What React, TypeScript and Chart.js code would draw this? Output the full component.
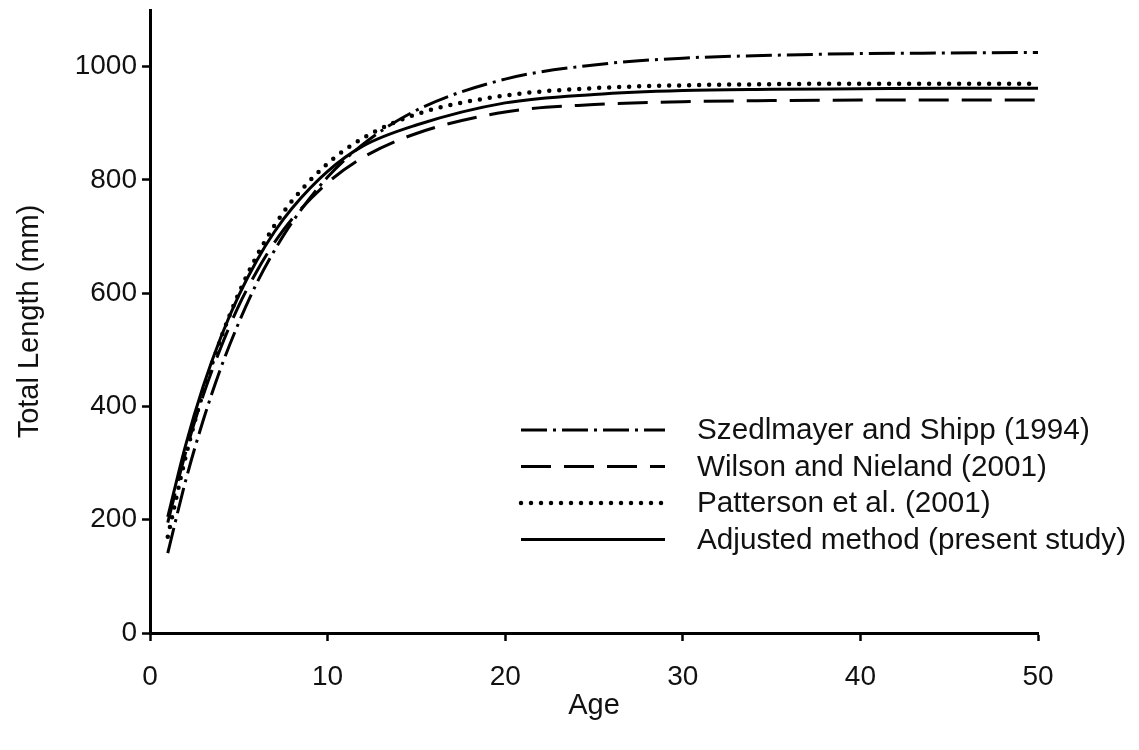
import React, { useEffect, useRef } from "react";
import { Chart, registerables } from "chart.js";

Chart.register(...registerables);

const ages = [1, 2, 3, 4, 5, 6, 7, 8, 10, 12, 15, 20, 25, 30, 35, 40, 45, 50];

// Total length (mm)
const szedlmayerShipp = [141, 268, 376, 469, 548, 617, 675, 725, 805, 863, 923, 978, 1003, 1015, 1020, 1023, 1024, 1025];
const wilsonNieland = [195, 318, 420, 505, 578, 638, 689, 731, 795, 840, 882, 920, 933, 938, 940, 941, 941, 941];
const pattersonEtAl = [170, 310, 426, 521, 600, 665, 719, 763, 829, 874, 916, 949, 962, 967, 969, 970, 970, 970];
const adjustedMethod = [205, 331, 436, 523, 596, 657, 708, 750, 815, 860, 897, 936, 951, 958, 960, 961, 962, 962];

const seriesLabels = [
  "Szedlmayer and Shipp (1994)",
  "Wilson and Nieland (2001)",
  "Patterson et al. (2001)",
  "Adjusted method (present study)",
];

const xTickValues = [0, 10, 20, 30, 40, 50];
const yTickValues = [0, 200, 400, 600, 800, 1000];

const FONT = '"Liberation Sans", Arial, sans-serif';

const legendPlugin = {
  id: "insideLegend",
  afterDatasetsDraw(chart: any) {
    const ctx = chart.ctx;
    const x0 = 521;
    const x1 = 665;
    const tx = 697;
    const y0 = 430;
    const dy = 36.5;
    chart.data.datasets.forEach((ds: any, i: number) => {
      const y = y0 + i * dy;
      ctx.save();
      ctx.strokeStyle = "#000";
      ctx.lineWidth = ds.borderWidth;
      ctx.setLineDash(ds.borderDash || []);
      ctx.lineCap = ds.borderCapStyle || "butt";
      ctx.beginPath();
      ctx.moveTo(x0, y);
      ctx.lineTo(x1, y);
      ctx.stroke();
      ctx.setLineDash([]);
      ctx.fillStyle = "#111";
      ctx.font = `29.7px ${FONT}`;
      ctx.textBaseline = "middle";
      ctx.textAlign = "left";
      ctx.fillText(ds.label, tx, y + 1);
      ctx.restore();
    });
  },
};

const toPoints = (vals: number[]) => ages.map((a, i) => ({ x: a, y: vals[i] }));

export default function App() {
  const canvasRef = useRef<HTMLCanvasElement | null>(null);

  useEffect(() => {
    if (!canvasRef.current) return;
    const common = {
      borderColor: "#000",
      pointRadius: 0,
      cubicInterpolationMode: "monotone" as const,
      fill: false,
    };
    const chart = new Chart(canvasRef.current, {
      type: "line",
      data: {
        datasets: [
          { ...common, label: seriesLabels[0], data: toPoints(szedlmayerShipp), borderWidth: 3, borderDash: [26, 6, 3, 6] },
          { ...common, label: seriesLabels[1], data: toPoints(wilsonNieland), borderWidth: 3, borderDash: [30, 13] },
          { ...common, label: seriesLabels[2], data: toPoints(pattersonEtAl), borderWidth: 4.5, borderDash: [0, 10], borderCapStyle: "round" },
          { ...common, label: seriesLabels[3], data: toPoints(adjustedMethod), borderWidth: 3 },
        ],
      },
      options: {
        responsive: false,
        animation: false,
        layout: { padding: { left: 0, top: 10, right: 101, bottom: 0 } },
        plugins: { legend: { display: false }, tooltip: { enabled: false } },
        scales: {
          x: {
            type: "linear",
            min: 0,
            max: 50,
            afterBuildTicks: (scale: any) => {
              scale.ticks = xTickValues.map((v) => ({ value: v }));
            },
            afterFit: (scale: any) => {
              scale.height = 117;
              scale.paddingLeft = 0;
              scale.paddingRight = 0;
            },
            ticks: { color: "#111", font: { family: FONT, size: 28 }, padding: 19, callback: (v: any) => String(v) },
            grid: { drawOnChartArea: false, drawTicks: true, tickLength: 8, tickWidth: 2.5, tickColor: "#000" },
            border: { display: true, color: "#000", width: 3 },
            title: { display: true, text: "Age", color: "#111", font: { family: FONT, size: 29 }, padding: { top: 0, bottom: 27 } },
          },
          y: {
            type: "linear",
            min: 0,
            max: 1100,
            afterBuildTicks: (scale: any) => {
              scale.ticks = yTickValues.map((v) => ({ value: v }));
            },
            afterFit: (scale: any) => {
              scale.width = 150;
              scale.paddingTop = 0;
              scale.paddingBottom = 0;
            },
            ticks: { color: "#111", font: { family: FONT, size: 28 }, padding: 5, callback: (v: any) => String(v) },
            grid: { drawOnChartArea: false, drawTicks: true, tickLength: 8, tickWidth: 2.5, tickColor: "#000" },
            border: { display: true, color: "#000", width: 3 },
            title: { display: true, text: "Total Length (mm)", color: "#111", font: { family: FONT, size: 29 }, padding: { top: 13, bottom: 0 } },
          },
        },
      },
      plugins: [legendPlugin],
    });
    return () => chart.destroy();
  }, []);

  return (
    <div style={{ position: "fixed", left: 0, top: 0, width: 1139, height: 750, background: "#fff" }}>
      <canvas ref={canvasRef} width={1139} height={750} style={{ display: "block" }} />
    </div>
  );
}
